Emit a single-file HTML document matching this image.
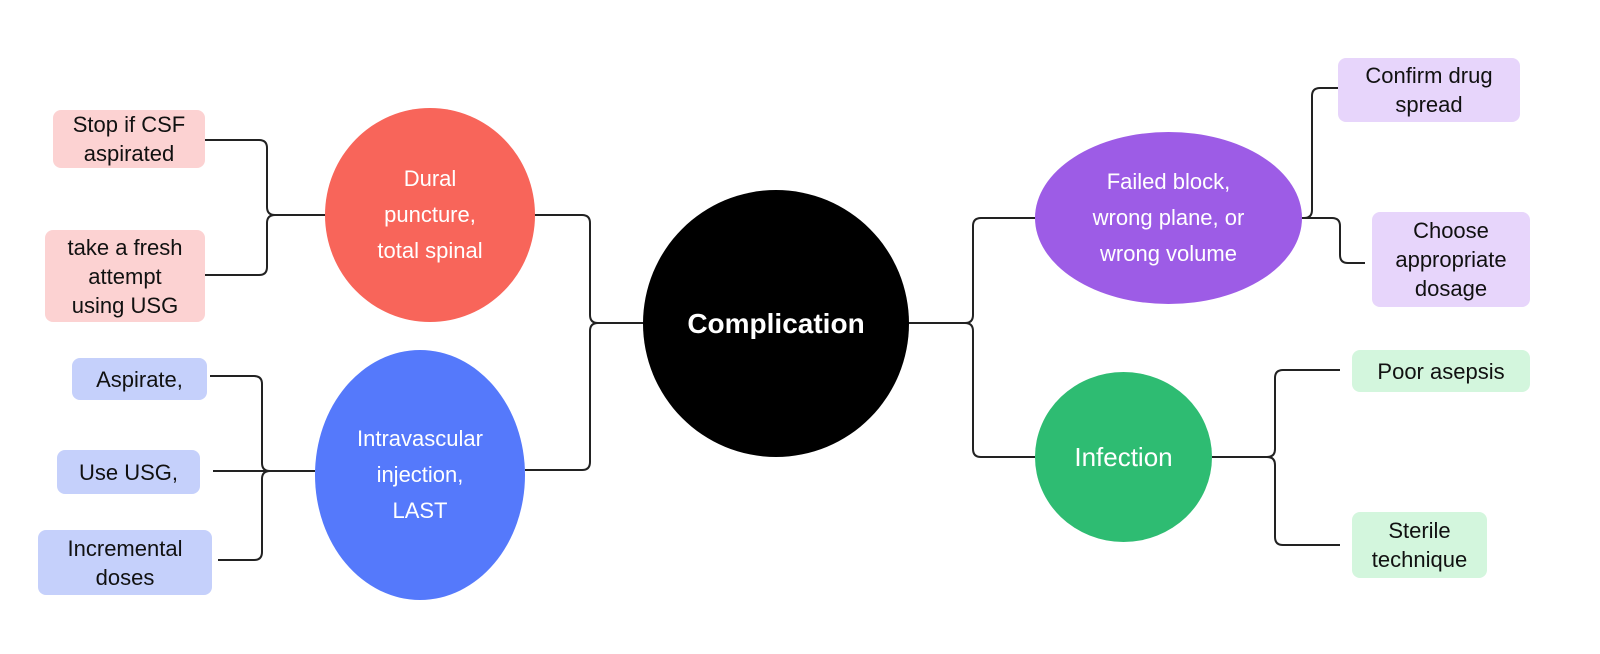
<!DOCTYPE html>
<html><head><meta charset="utf-8"><style>
html,body{margin:0;padding:0;background:#fff;}
body{width:1600px;height:654px;position:relative;overflow:hidden;font-family:"Liberation Sans",sans-serif;}
.c{position:absolute;border-radius:50%;display:flex;align-items:center;justify-content:center;text-align:center;color:#fff;font-size:22px;line-height:36px;}
.b{position:absolute;border-radius:8px;display:flex;align-items:center;justify-content:center;text-align:center;color:#111;font-size:22px;line-height:29px;}
svg{position:absolute;left:0;top:0;}
</style></head><body>
<svg width="1600" height="654" fill="none" stroke="#222" stroke-width="2">
<path d="M643,323 H598 Q590,323 590,315 V223 Q590,215 582,215 H534"/>
<path d="M598,323 Q590,323 590,331 V462 Q590,470 582,470 H525"/>
<path d="M908,323 H965 Q973,323 973,315 V226 Q973,218 981,218 H1035"/>
<path d="M965,323 Q973,323 973,331 V449 Q973,457 981,457 H1035"/>
<path d="M325,215 H275 Q267,215 267,207 V148 Q267,140 259,140 H205"/>
<path d="M275,215 Q267,215 267,223 V267 Q267,275 259,275 H205"/>
<path d="M315,471 H270 Q262,471 262,463 V384 Q262,376 254,376 H210"/>
<path d="M270,471 H213"/>
<path d="M270,471 Q262,471 262,479 V552 Q262,560 254,560 H218"/>
<path d="M1302,218 H1304 Q1312,218 1312,210 V96 Q1312,88 1320,88 H1340"/>
<path d="M1302,218 H1332 Q1340,218 1340,226 V255 Q1340,263 1348,263 H1365"/>
<path d="M1212,457 H1267 Q1275,457 1275,449 V378 Q1275,370 1283,370 H1340"/>
<path d="M1267,457 Q1275,457 1275,465 V537 Q1275,545 1283,545 H1340"/>
</svg>
<div class="c" style="left:643px;top:190px;width:266px;height:267px;background:#000;font-weight:bold;font-size:28px;">Complication</div>
<div class="c" style="left:325px;top:108px;width:210px;height:214px;background:#f8655a;">Dural<br>puncture,<br>total spinal</div>
<div class="c" style="left:315px;top:350px;width:210px;height:250px;background:#5579fb;">Intravascular<br>injection,<br>LAST</div>
<div class="c" style="left:1035px;top:132px;width:267px;height:172px;background:#9d5ce6;">Failed block,<br>wrong plane, or<br>wrong volume</div>
<div class="c" style="left:1035px;top:372px;width:177px;height:170px;background:#2ebc72;font-size:26px;">Infection</div>
<div class="b" style="left:53px;top:110px;width:152px;height:58px;background:#fcd2d2;">Stop if CSF<br>aspirated</div>
<div class="b" style="left:45px;top:230px;width:160px;height:92px;background:#fcd2d2;">take a fresh<br>attempt<br>using USG</div>
<div class="b" style="left:72px;top:358px;width:135px;height:42px;background:#c5d0fb;">Aspirate,</div>
<div class="b" style="left:57px;top:450px;width:143px;height:44px;background:#c5d0fb;">Use USG,</div>
<div class="b" style="left:38px;top:530px;width:174px;height:65px;background:#c5d0fb;">Incremental<br>doses</div>
<div class="b" style="left:1338px;top:58px;width:182px;height:64px;background:#e7d5fb;">Confirm drug<br>spread</div>
<div class="b" style="left:1372px;top:212px;width:158px;height:95px;background:#e7d5fb;">Choose<br>appropriate<br>dosage</div>
<div class="b" style="left:1352px;top:350px;width:178px;height:42px;background:#d3f6dd;">Poor asepsis</div>
<div class="b" style="left:1352px;top:512px;width:135px;height:66px;background:#d3f6dd;">Sterile<br>technique</div>
</body></html>
